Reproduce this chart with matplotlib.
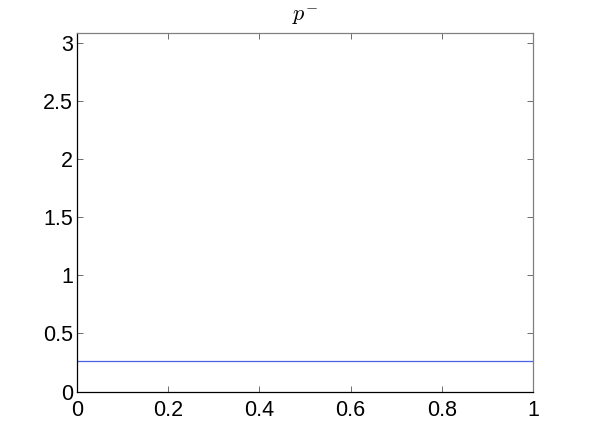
import numpy as np
import matplotlib
matplotlib.use("Agg")
import matplotlib.pyplot as plt

# dados
x_vals = [0.0, 1.0]
p_menos = [0.26, 0.26]
x_ticks = [0, 0.2, 0.4, 0.6, 0.8, 1]
x_labels = ["0", "0.2", "0.4", "0.6", "0.8", "1"]
y_ticks = [0, 0.5, 1, 1.5, 2, 2.5, 3]
y_labels = ["0", "0.5", "1", "1.5", "2", "2.5", "3"]

plt.rcParams['font.family'] = ['Liberation Sans', 'DejaVu Sans']
plt.rcParams['mathtext.fontset'] = 'cm'

fig = plt.figure(figsize=(5.89, 4.41), dpi=100)
ax = fig.add_axes([0.1307, 0.1122, 0.7743, 0.8123])

ax.plot(x_vals, p_menos, color='#4b5fe0', linewidth=0.9)

ax.set_xlim(0, 1)
ax.set_ylim(0, 3.083)
ax.set_xticks(x_ticks)
ax.set_xticklabels(x_labels)
ax.set_yticks(y_ticks)
ax.set_yticklabels(y_labels)
ax.tick_params(direction='in', length=4, labelsize=15.5, width=0.6, color='#555555',
               top=True, right=True)
ax.tick_params(axis='x', pad=6)
ax.tick_params(axis='y', pad=3)
for lado in ['top', 'right']:
    ax.spines[lado].set_color('#808080')
for lado in ['left', 'bottom']:
    ax.spines[lado].set_color('black')
for s in ax.spines.values():
    s.set_linewidth(0.9)

ax.set_title(r'$p^{-}$', fontsize=16, pad=9)

fig.savefig("out.png", dpi=100)
